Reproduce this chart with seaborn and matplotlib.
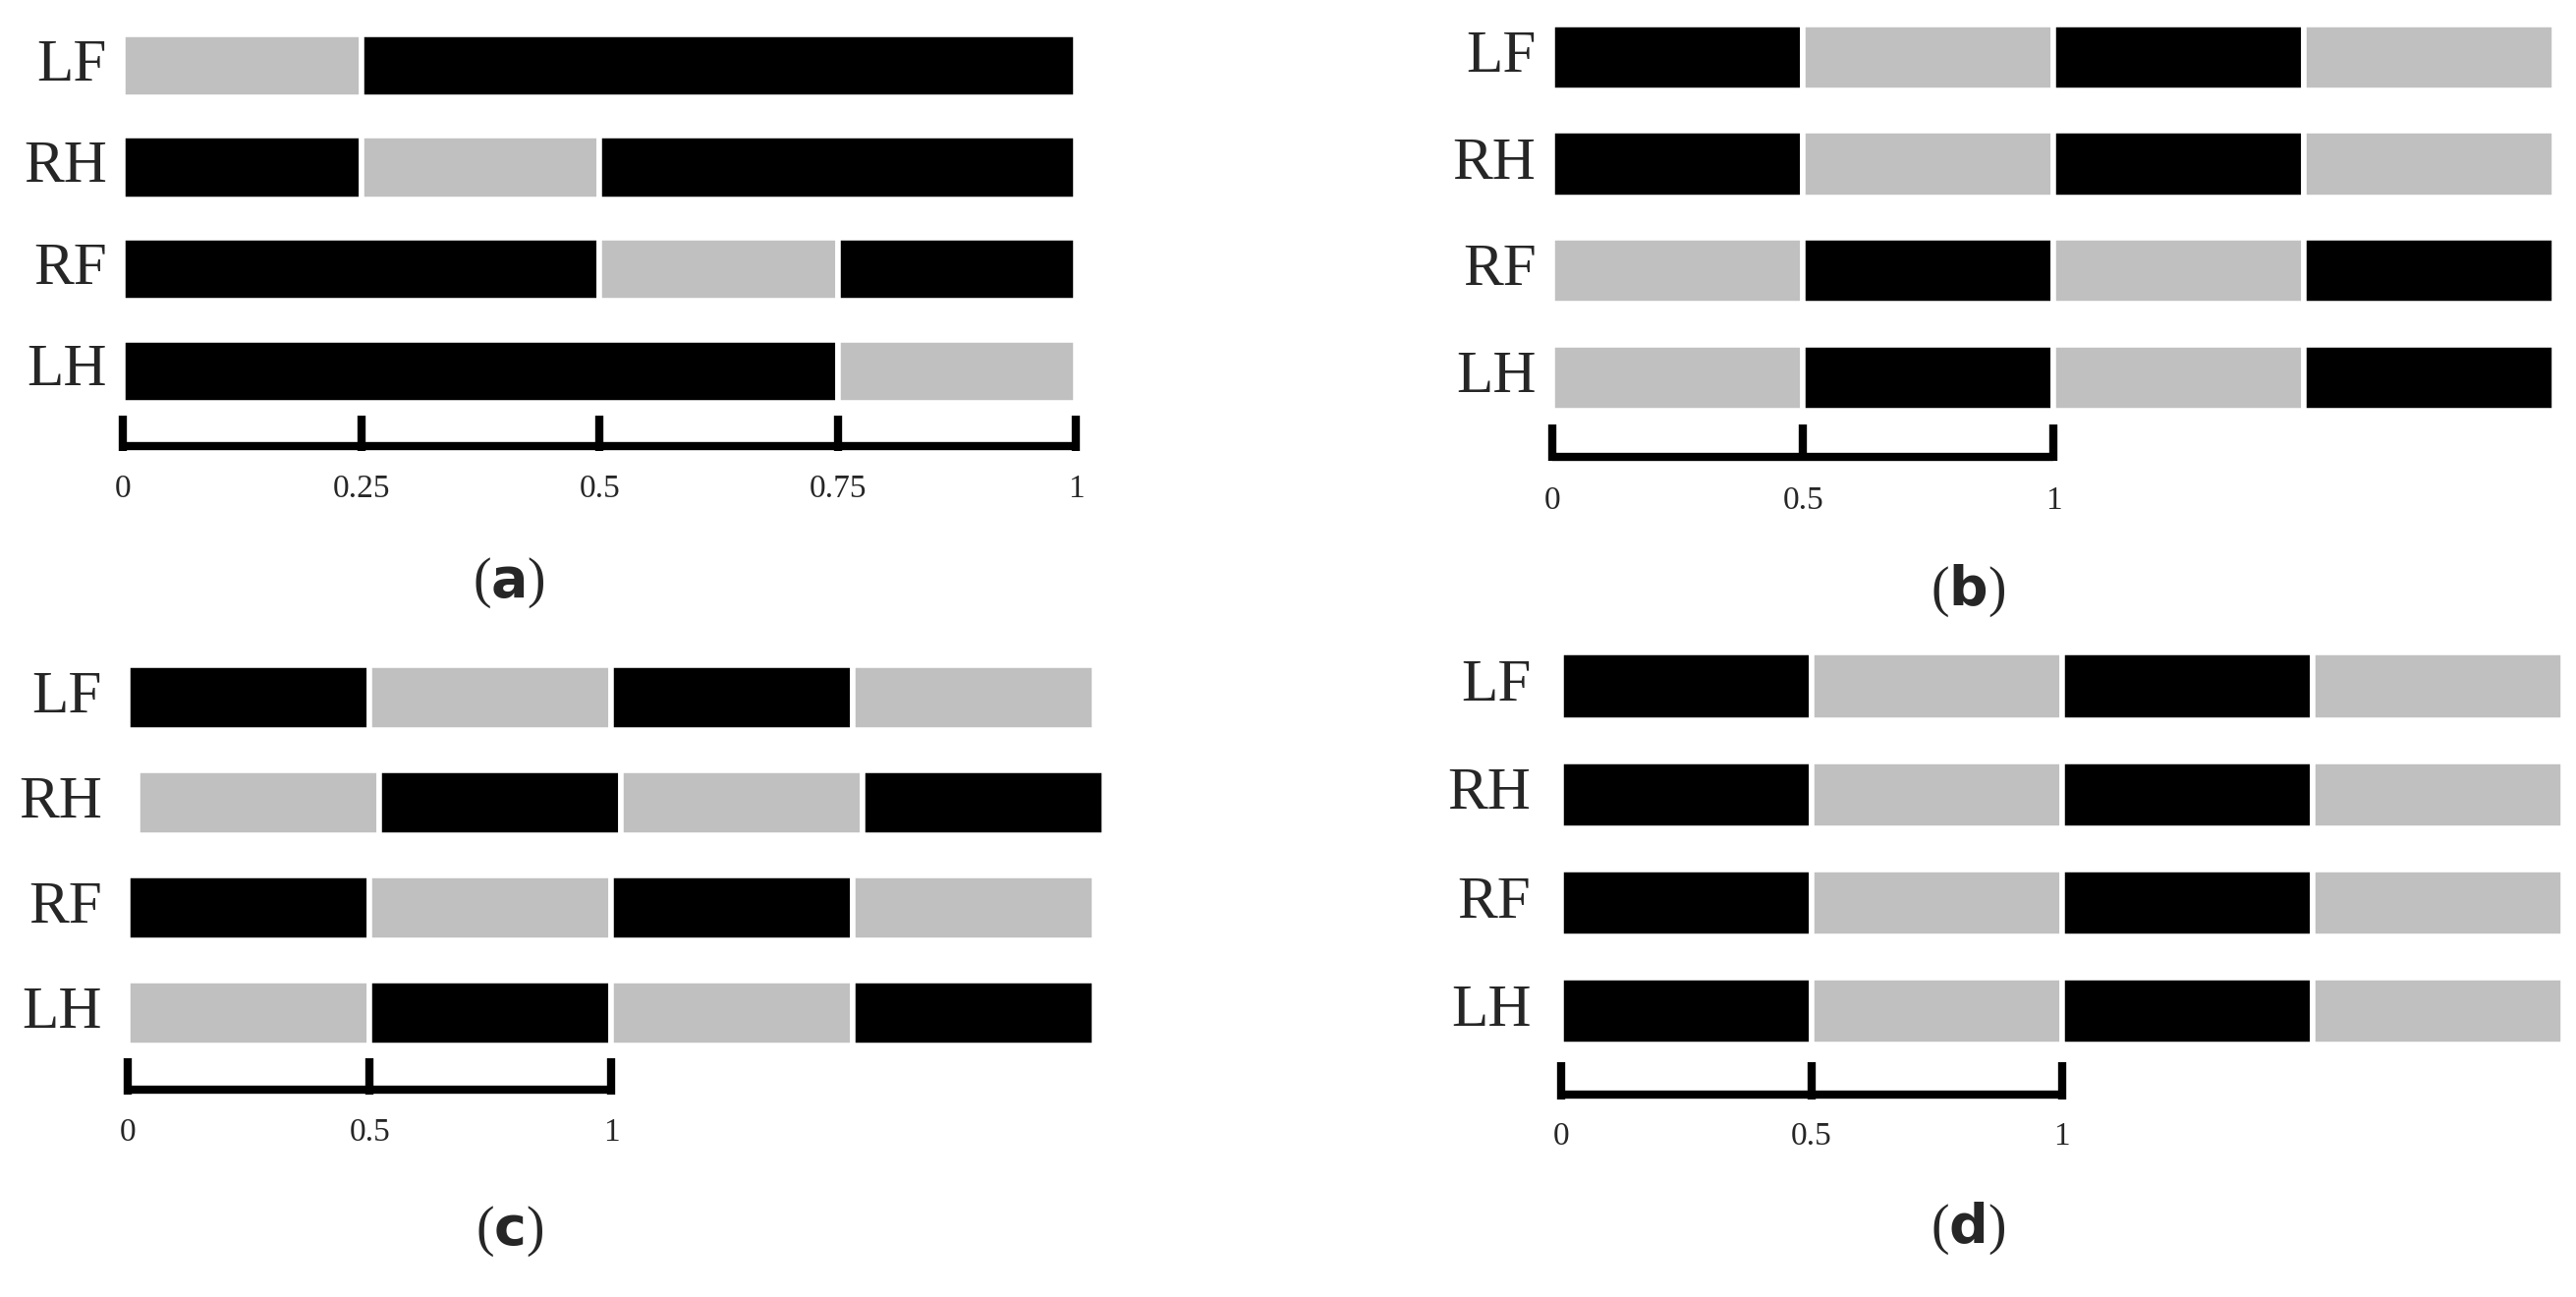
import matplotlib
matplotlib.use("Agg")
import matplotlib.pyplot as plt
import seaborn as sns

legs = ["LF", "RH", "RF", "LH"]
BLACK, GRAY = "#000000", "#c0c0c0"

# (start, end, stance?) per leg, in gait-cycle units
gait_a = {
    "LF": [(0, 0.25, 0), (0.25, 1, 1)],
    "RH": [(0, 0.25, 1), (0.25, 0.5, 0), (0.5, 1, 1)],
    "RF": [(0, 0.5, 1), (0.5, 0.75, 0), (0.75, 1, 1)],
    "LH": [(0, 0.75, 1), (0.75, 1, 0)],
}
bgbg = [(0, 0.5, 1), (0.5, 1, 0), (1, 1.5, 1), (1.5, 2, 0)]
gbgb = [(0, 0.5, 0), (0.5, 1, 1), (1, 1.5, 0), (1.5, 2, 1)]
gait_b = {"LF": bgbg, "RH": bgbg, "RF": gbgb, "LH": gbgb}
gait_c = {"LF": bgbg, "RH": [(s + 0.02, e + 0.02, k) for s, e, k in gbgb],
          "RF": bgbg, "LH": gbgb}
gait_d = {"LF": bgbg, "RH": bgbg, "RF": bgbg, "LH": bgbg}

ticks_a = [0, 0.25, 0.5, 0.75, 1]
ticks_half = [0, 0.5, 1]

# layout in reference pixel space (1568 x 790)
W, H = 1568, 790
panels = [
    # gait, ticks, caption, box(l,t,w,h), x0, unit, row0, spacing, scale_y, lab_y, cap_y, lab_x
    (gait_a, ticks_a, "a", (0, 0, 784, 395), 75, 580, 40, 62, 272, 298, 355, 65),
    (gait_b, ticks_half, "b", (784, 0, 784, 395), 945, 305, 35, 65, 278, 305, 360, 935),
    (gait_c, ticks_half, "c", (0, 395, 784, 395), 78, 294, 425, 64, 664, 690, 750, 62),
    (gait_d, ticks_half, "d", (784, 395, 784, 395), 950, 305, 418, 66, 667, 692, 748, 932),
]

sns.set_style("white")
plt.rcParams["font.family"] = ["Liberation Serif", "DejaVu Serif"]

fig = plt.figure(figsize=(26.22, 13.2), dpi=100)
for gait, ticks, cap, (l, t, w, h), x0, unit, r0, sp, sy, ly, cy, lx in panels:
    ax = fig.add_axes([l / W, 1 - (t + h) / H, w / W, h / H])
    ax.set_xlim((l - x0) / unit, (l + w - x0) / unit)
    ax.set_ylim((t + h - r0) / sp, (t - r0) / sp)
    ax.axis("off")
    for i, leg in enumerate(legs):
        for s, e, k in gait[leg]:
            ax.barh(i, e - s, left=s, height=0.62, color=BLACK if k else GRAY,
                    edgecolor="white", linewidth=4)
        ax.text((lx - x0) / unit, i, leg, ha="right", va="center", fontsize=44)
    ys = (sy - r0) / sp
    ax.plot([ticks[0], ticks[-1]], [ys, ys], color="black", lw=6, solid_capstyle="butt")
    for tk in ticks:
        ax.plot([tk, tk], [ys + 0.04, ys - 0.3], color="black", lw=6, solid_capstyle="butt")
        ax.text(tk, (ly - r0) / sp, f"{tk:g}", ha="center", va="center", fontsize=24)
    xc = ((l + w / 2) - x0) / unit - (0.02 if cap != "a" else 0.12)
    if cap == "a":
        xc = (310 - x0) / unit
    elif cap == "b":
        xc = (1198 - x0) / unit
    elif cap == "c":
        xc = (310 - x0) / unit
    else:
        xc = (1198 - x0) / unit
    ax.text(xc, (cy - r0) / sp, f"($\\mathbf{{{cap}}}$)", ha="center", va="center",
            fontsize=40)

fig.savefig("out.png", dpi=100, facecolor="white")
